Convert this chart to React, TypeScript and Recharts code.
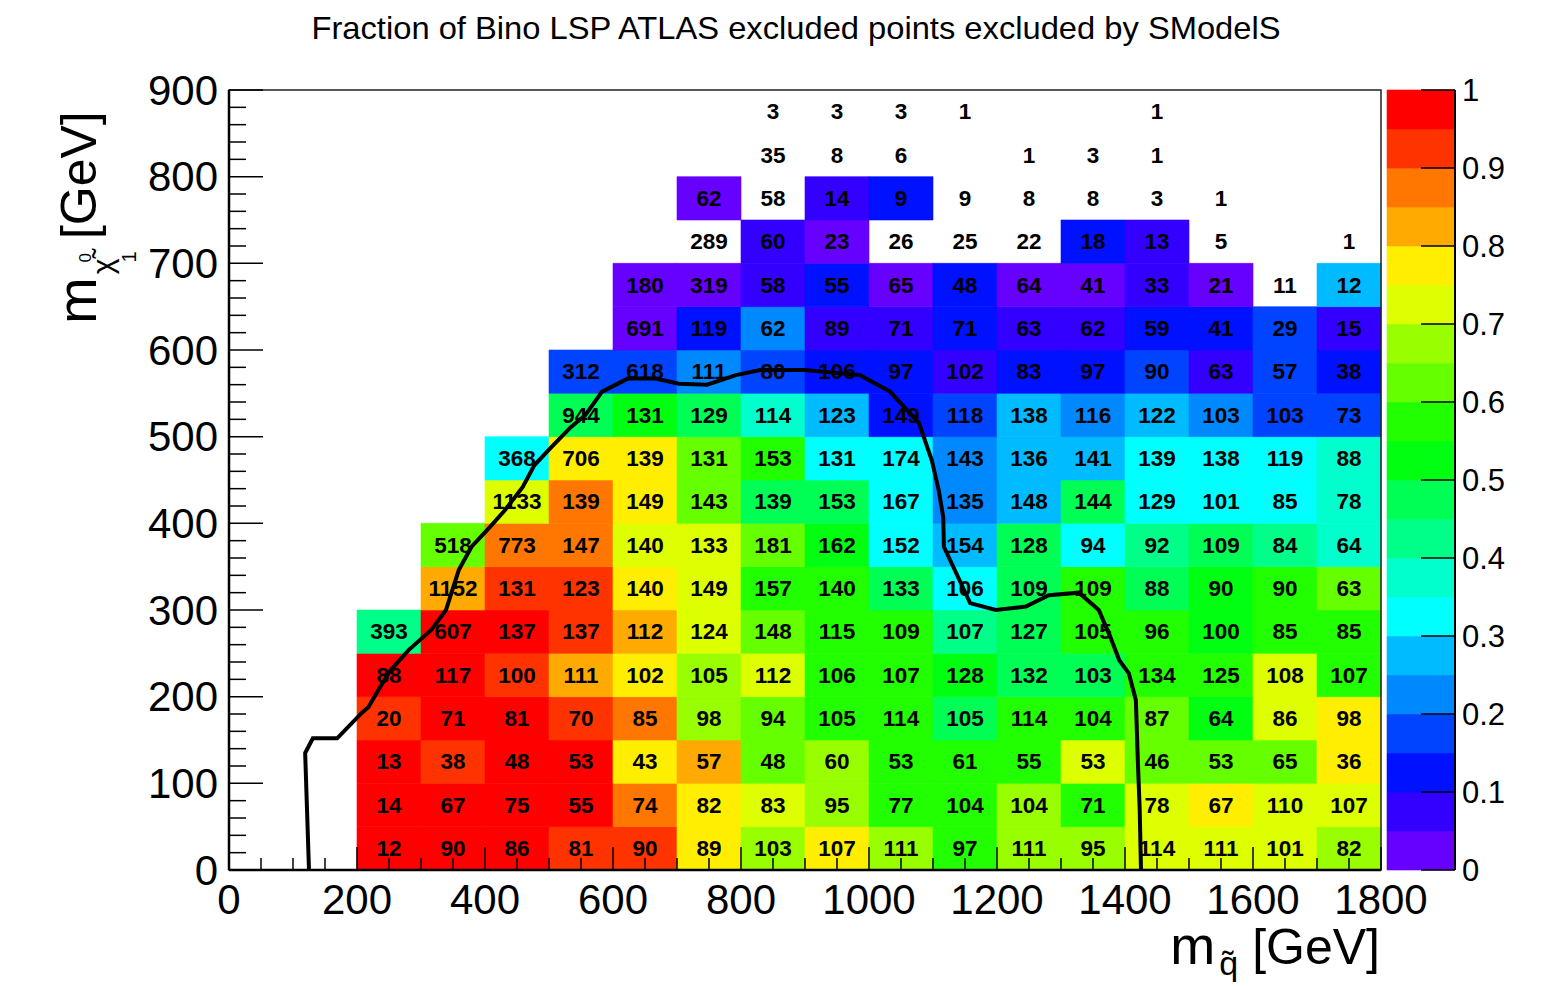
import React from 'react';
import { ComposedChart, XAxis, YAxis, Scatter, ReferenceArea, Customized } from 'recharts';

const W = 1543;
const H = 987;
const FONT = "'Liberation Sans', Arial, Helvetica, sans-serif";

// Bin edges (GeV)
const xEdges = [0, 100, 200, 300, 400, 500, 600, 700, 800, 900, 1000, 1100, 1200, 1300, 1400, 1500, 1600, 1700, 1800];
const yEdges = [0, 50, 100, 150, 200, 250, 300, 350, 400, 450, 500, 550, 600, 650, 700, 750, 800, 850, 900];

const N = null;
// Number of points per cell, one array per LSP-mass row (bottom to top), one entry per squark-mass bin
const count0 = [N, N, 12, 90, 86, 81, 90, 89, 103, 107, 111, 97, 111, 95, 114, 111, 101, 82];
const count50 = [N, N, 14, 67, 75, 55, 74, 82, 83, 95, 77, 104, 104, 71, 78, 67, 110, 107];
const count100 = [N, N, 13, 38, 48, 53, 43, 57, 48, 60, 53, 61, 55, 53, 46, 53, 65, 36];
const count150 = [N, N, 20, 71, 81, 70, 85, 98, 94, 105, 114, 105, 114, 104, 87, 64, 86, 98];
const count200 = [N, N, 88, 117, 100, 111, 102, 105, 112, 106, 107, 128, 132, 103, 134, 125, 108, 107];
const count250 = [N, N, 393, 607, 137, 137, 112, 124, 148, 115, 109, 107, 127, 105, 96, 100, 85, 85];
const count300 = [N, N, N, 1152, 131, 123, 140, 149, 157, 140, 133, 106, 109, 109, 88, 90, 90, 63];
const count350 = [N, N, N, 518, 773, 147, 140, 133, 181, 162, 152, 154, 128, 94, 92, 109, 84, 64];
const count400 = [N, N, N, N, 1133, 139, 149, 143, 139, 153, 167, 135, 148, 144, 129, 101, 85, 78];
const count450 = [N, N, N, N, 368, 706, 139, 131, 153, 131, 174, 143, 136, 141, 139, 138, 119, 88];
const count500 = [N, N, N, N, N, 944, 131, 129, 114, 123, 149, 118, 138, 116, 122, 103, 103, 73];
const count550 = [N, N, N, N, N, 312, 618, 111, 80, 106, 97, 102, 83, 97, 90, 63, 57, 38];
const count600 = [N, N, N, N, N, N, 691, 119, 62, 89, 71, 71, 63, 62, 59, 41, 29, 15];
const count650 = [N, N, N, N, N, N, 180, 319, 58, 55, 65, 48, 64, 41, 33, 21, 11, 12];
const count700 = [N, N, N, N, N, N, N, 289, 60, 23, 26, 25, 22, 18, 13, 5, N, 1];
const count750 = [N, N, N, N, N, N, N, 62, 58, 14, 9, 9, 8, 8, 3, 1, N, N];
const count800 = [N, N, N, N, N, N, N, N, 35, 8, 6, N, 1, 3, 1, N, N, N];
const count850 = [N, N, N, N, N, N, N, N, 3, 3, 3, 1, N, N, 1, N, N, N];

// Fraction excluded (in %)
const frac0 = [N, N, 97, 97, 97, 92, 92, 77, 67, 77, 67, 57, 67, 67, 72, 72, 72, 67];
const frac50 = [N, N, 97, 97, 97, 97, 87, 77, 72, 67, 57, 57, 67, 57, 72, 77, 72, 72];
const frac100 = [N, N, 97, 92, 97, 97, 77, 82, 62, 67, 57, 57, 57, 72, 62, 62, 62, 77];
const frac150 = [N, N, 92, 97, 97, 92, 87, 67, 62, 57, 57, 47, 57, 57, 62, 52, 72, 77];
const frac200 = [N, N, 97, 97, 92, 82, 77, 67, 72, 57, 57, 52, 47, 47, 57, 57, 72, 57];
const frac250 = [N, N, 42, 97, 97, 92, 82, 72, 62, 57, 57, 42, 47, 57, 57, 52, 57, 57];
const frac300 = [N, N, N, 82, 92, 92, 77, 72, 57, 57, 47, 32, 47, 57, 47, 52, 57, 62];
const frac350 = [N, N, N, 62, 87, 87, 72, 72, 62, 52, 32, 27, 47, 32, 42, 47, 42, 37];
const frac400 = [N, N, N, N, 72, 87, 77, 62, 47, 47, 32, 22, 27, 47, 32, 32, 32, 37];
const frac450 = [N, N, N, N, 32, 77, 77, 62, 57, 32, 32, 22, 27, 27, 32, 32, 32, 37];
const frac500 = [N, N, N, N, N, 47, 52, 47, 37, 27, 12, 17, 27, 22, 27, 22, 17, 17];
const frac550 = [N, N, N, N, N, 17, 17, 22, 17, 12, 12, 7, 12, 12, 17, 7, 17, 12];
const frac600 = [N, N, N, N, N, N, 2, 12, 22, 7, 7, 12, 7, 7, 12, 12, 17, 7];
const frac650 = [N, N, N, N, N, N, 2, 2, 7, 12, 2, 12, 2, 2, 7, 2, 0, 27];
const frac700 = [N, N, N, N, N, N, N, 0, 7, 2, 0, 0, 0, 12, 7, 0, N, 0];
const frac750 = [N, N, N, N, N, N, N, 2, 0, 7, 12, 0, 0, 0, 0, 0, N, N];
const frac800 = [N, N, N, N, N, N, N, N, 0, 0, 0, N, 0, 0, 0, N, N, N];
const frac850 = [N, N, N, N, N, N, N, N, 0, 0, 0, 0, N, N, 0, N, N, N];

// ATLAS exclusion contour
const contourMsq = [125, 119, 131, 169, 207, 218, 236, 253, 281, 316, 339, 359, 379, 408, 431, 459, 477, 500, 534, 557, 583, 623, 666, 703, 747, 792, 830, 900, 986, 1033, 1055, 1078, 1098, 1109, 1116, 1117, 1136, 1158, 1198, 1245, 1281, 1328, 1359, 1377, 1391, 1406, 1417, 1420, 1423, 1425];
const contourMlsp = [0, 135, 152, 152, 181, 188, 211, 231, 254, 277, 300, 346, 373, 396, 415, 442, 467, 485, 511, 525, 552, 567, 567, 561, 560, 571, 577, 577, 571, 552, 534, 516, 473, 438, 407, 373, 343, 308, 300, 304, 317, 320, 300, 269, 242, 227, 196, 127, 69, 0];

// Colour palette (20 levels from 0 to 1)
const palette = ['#6600ff', '#3300ff', '#0011ff', '#0044ff', '#0088ff', '#00bbff', '#00ffff', '#00ffcc', '#00ff88', '#00ff55', '#00ff11', '#22ff00', '#66ff00', '#99ff00', '#ddff00', '#ffee00', '#ffaa00', '#ff7700', '#ff3300', '#ff0000'];
const paletteTicks = [0, 0.1, 0.2, 0.3, 0.4, 0.5, 0.6, 0.7, 0.8, 0.9, 1];
const paletteTickLabels = ['0', '0.1', '0.2', '0.3', '0.4', '0.5', '0.6', '0.7', '0.8', '0.9', '1'];

const xTicks = Array.from({ length: 37 }, (_, k) => k * 50);
const yTicks = Array.from({ length: 46 }, (_, k) => k * 20);

const countRows = [count0, count50, count100, count150, count200, count250, count300, count350, count400, count450, count500, count550, count600, count650, count700, count750, count800, count850];
const fracRows = [frac0, frac50, frac100, frac150, frac200, frac250, frac300, frac350, frac400, frac450, frac500, frac550, frac600, frac650, frac700, frac750, frac800, frac850];

type Cell = { key: string; x1: number; x2: number; y1: number; y2: number; fill: string };
const cells: Cell[] = [];
fracRows.forEach((row, j) =>
  row.forEach((p, i) => {
    if (p === null || p <= 0) return;
    const level = Math.min(palette.length - 1, Math.floor((p / 100) * palette.length));
    cells.push({ key: `c${i}-${j}`, x1: xEdges[i], x2: xEdges[i + 1], y1: yEdges[j], y2: yEdges[j + 1], fill: palette[level] });
  })
);

const labels: { x: number; y: number; n: number }[] = [];
countRows.forEach((row, j) =>
  row.forEach((n, i) => {
    if (n === null) return;
    labels.push({ x: (xEdges[i] + xEdges[i + 1]) / 2, y: (yEdges[j] + yEdges[j + 1]) / 2, n });
  })
);

const contour = contourMsq.map((x, k) => ({ x, y: contourMlsp[k] }));
const bands = palette.map((c, k) => ({ y1: k / palette.length, y2: (k + 1) / palette.length, fill: c, x: 0.5, y: (k + 0.5) / palette.length }));

const XTick = (props: any) => {
  const { x, y, payload } = props;
  const v = payload.value;
  const major = v % 200 === 0;
  return (
    <g>
      <line x1={x} y1={y} x2={x} y2={y - (major ? 23 : 12)} stroke="#000" strokeWidth={1.5} />
      {major && (
        <text x={x} y={y + 29} textAnchor="middle" dominantBaseline="central" fontSize={42} fontFamily={FONT} fill="#000">
          {v}
        </text>
      )}
    </g>
  );
};

const YTick = (props: any) => {
  const { x, y, payload } = props;
  const v = payload.value;
  const major = v % 100 === 0;
  return (
    <g>
      <line x1={x} y1={y} x2={x + (major ? 34 : 17)} y2={y} stroke="#000" strokeWidth={1.5} />
      {major && (
        <text x={x - 11} y={y} textAnchor="end" dominantBaseline="central" fontSize={42} fontFamily={FONT} fill="#000">
          {v}
        </text>
      )}
    </g>
  );
};

const PTick = (props: any) => {
  const { x, y, payload } = props;
  const idx = paletteTicks.indexOf(payload.value);
  return (
    <g>
      <line x1={x - 34} y1={y} x2={x} y2={y} stroke="#000" strokeWidth={1.5} />
      <text x={x + 7} y={y} dominantBaseline="central" fontSize={31} fontFamily={FONT} fill="#000">
        {idx >= 0 ? paletteTickLabels[idx] : payload.value}
      </text>
    </g>
  );
};

const CellText = (p: any) => (
  <text x={p.cx} y={p.cy} textAnchor="middle" dominantBaseline="central" fontSize={22.5} fontWeight={700} fontFamily={FONT} fill="#000">
    {p.payload.n}
  </text>
);

const Titles = () => (
  <g fontFamily={FONT} fill="#000">
    <text x={796} y={28} textAnchor="middle" dominantBaseline="central" fontSize={32} textLength={969} lengthAdjust="spacingAndGlyphs">
      Fraction of Bino LSP ATLAS excluded points excluded by SModelS
    </text>
    <text x={1380} y={964} textAnchor="end" fontSize={50}>
      <tspan fontSize={54}>m</tspan>
      <tspan fontSize={34} dx={4} dy={11}>{'q\u0303'}</tspan>
      <tspan dy={-11}> [GeV]</tspan>
    </text>
    <text transform="translate(96,324) rotate(-90)" fontSize={50}>
      <tspan fontSize={56}>m</tspan>
      <tspan fontSize={30} dx={3} dy={17}>{'\u03c7\u0303'}</tspan>
      <tspan fontSize={20} dx={-4} dy={23}>1</tspan>
      <tspan fontSize={17} dx={-11} dy={-45}>0</tspan>
      <tspan dy={5}> [GeV]</tspan>
    </text>
  </g>
);

const layer: React.CSSProperties = { position: 'absolute', left: 0, top: 0 };
const Empty = () => null;

export default function App() {
  return (
    <div style={{ position: 'absolute', left: 0, top: 0, width: W, height: H, background: '#fff', fontFamily: FONT }}>
      {/* cells */}
      <div style={layer}>
        <ComposedChart width={W} height={H} margin={{ top: 90, right: 162, bottom: 117, left: 229 }} data={labels}>
          <XAxis type="number" dataKey="x" domain={[0, 1800]} hide allowDataOverflow />
          <YAxis type="number" dataKey="y" domain={[0, 900]} hide allowDataOverflow />
          {cells.map((c) => (
            <ReferenceArea key={c.key} x1={c.x1} x2={c.x2} y1={c.y1} y2={c.y2} fill={c.fill} fillOpacity={1} stroke={c.fill} strokeWidth={0.6} />
          ))}
          <Scatter data={labels} shape={Empty} isAnimationActive={false} />
        </ComposedChart>
      </div>
      {/* palette bands */}
      <div style={layer}>
        <ComposedChart width={W} height={H} margin={{ top: 90, right: 88, bottom: 117, left: 1387 }} data={bands}>
          <XAxis type="number" dataKey="x" domain={[0, 1]} hide />
          <YAxis type="number" dataKey="y" domain={[0, 1]} hide />
          {bands.map((b, k) => (
            <ReferenceArea key={`b${k}`} x1={0} x2={1} y1={b.y1} y2={b.y2} fill={b.fill} fillOpacity={1} stroke={b.fill} strokeWidth={0.6} />
          ))}
          <Scatter data={bands} shape={Empty} isAnimationActive={false} />
        </ComposedChart>
      </div>
      {/* axes, labels, contour */}
      <div style={layer}>
        <ComposedChart width={W} height={H} margin={{ top: 90, right: 162, bottom: 57, left: 109 }} data={labels}>
          <XAxis
            type="number"
            dataKey="x"
            domain={[0, 1800]}
            ticks={xTicks}
            interval={0}
            height={60}
            tickLine={false}
            tickSize={0}
            tickMargin={0}
            axisLine={{ stroke: '#000', strokeWidth: 2.5 }}
            tick={(p: any) => <XTick {...p} />}
            allowDataOverflow
          />
          <YAxis
            type="number"
            dataKey="y"
            domain={[0, 900]}
            ticks={yTicks}
            interval={0}
            width={120}
            tickLine={false}
            tickSize={0}
            tickMargin={0}
            axisLine={{ stroke: '#000', strokeWidth: 2.5 }}
            tick={(p: any) => <YTick {...p} />}
            allowDataOverflow
          />
          <ReferenceArea x1={0} x2={1800} y1={0} y2={900} fill="none" fillOpacity={0} stroke="#222" strokeWidth={1.5} />
          <Scatter data={contour} line={{ stroke: '#000', strokeWidth: 4 }} lineType="joint" shape={Empty} isAnimationActive={false} />
          <Scatter data={labels} shape={CellText} isAnimationActive={false} />
          <Customized component={Titles} />
        </ComposedChart>
      </div>
      {/* palette axis */}
      <div style={layer}>
        <ComposedChart width={W} height={H} margin={{ top: 90, right: 8, bottom: 117, left: 1387 }} data={bands}>
          <XAxis type="number" dataKey="x" domain={[0, 1]} hide />
          <YAxis
            type="number"
            dataKey="y"
            orientation="right"
            domain={[0, 1]}
            ticks={paletteTicks}
            interval={0}
            width={80}
            tickLine={false}
            tickSize={0}
            tickMargin={0}
            axisLine={{ stroke: '#000', strokeWidth: 2 }}
            tick={(p: any) => <PTick {...p} />}
          />
          <Scatter data={bands} shape={Empty} isAnimationActive={false} />
        </ComposedChart>
      </div>
    </div>
  );
}
